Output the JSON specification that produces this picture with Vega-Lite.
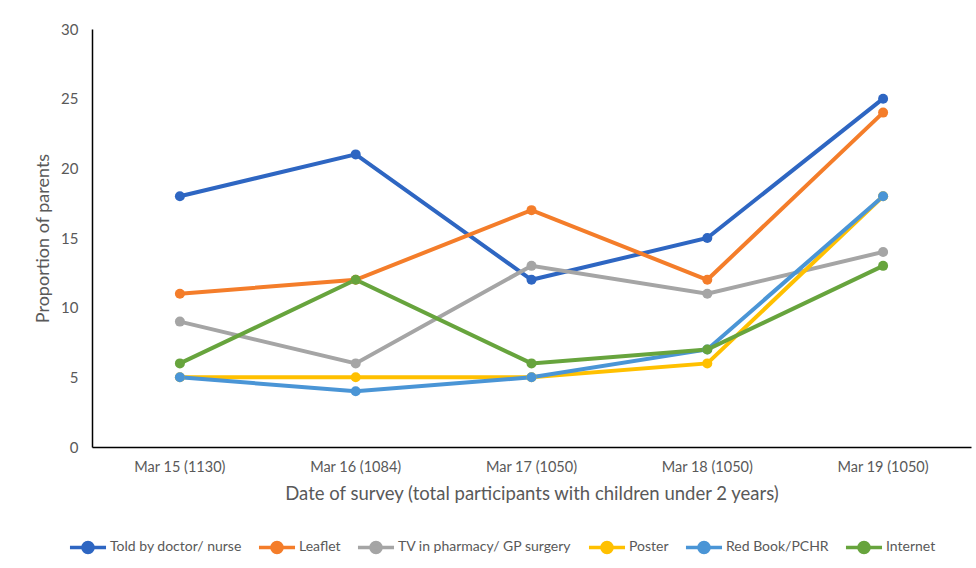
{
  "$schema": "https://vega.github.io/schema/vega-lite/v6.json",
  "width": 879,
  "height": 418,
  "autosize": "none",
  "padding": {"left": 92, "top": 29, "right": 5, "bottom": 121},
  "background": "white",
  "config": {
    "font": "Lato",
    "view": {"stroke": null},
    "axis": {"grid": false, "ticks": false, "labelColor": "#595959", "titleColor": "#595959", "titleFontWeight": "normal", "domainColor": "#000000", "domainWidth": 1.5}
  },
  "data": {
    "values": [
      {"date": "Mar 15 (1130)", "source": "Told by doctor/ nurse", "value": 18},
      {"date": "Mar 16 (1084)", "source": "Told by doctor/ nurse", "value": 21},
      {"date": "Mar 17 (1050)", "source": "Told by doctor/ nurse", "value": 12},
      {"date": "Mar 18 (1050)", "source": "Told by doctor/ nurse", "value": 15},
      {"date": "Mar 19 (1050)", "source": "Told by doctor/ nurse", "value": 25},
      {"date": "Mar 15 (1130)", "source": "Leaflet", "value": 11},
      {"date": "Mar 16 (1084)", "source": "Leaflet", "value": 12},
      {"date": "Mar 17 (1050)", "source": "Leaflet", "value": 17},
      {"date": "Mar 18 (1050)", "source": "Leaflet", "value": 12},
      {"date": "Mar 19 (1050)", "source": "Leaflet", "value": 24},
      {"date": "Mar 15 (1130)", "source": "TV in pharmacy/ GP surgery", "value": 9},
      {"date": "Mar 16 (1084)", "source": "TV in pharmacy/ GP surgery", "value": 6},
      {"date": "Mar 17 (1050)", "source": "TV in pharmacy/ GP surgery", "value": 13},
      {"date": "Mar 18 (1050)", "source": "TV in pharmacy/ GP surgery", "value": 11},
      {"date": "Mar 19 (1050)", "source": "TV in pharmacy/ GP surgery", "value": 14},
      {"date": "Mar 15 (1130)", "source": "Poster", "value": 5},
      {"date": "Mar 16 (1084)", "source": "Poster", "value": 5},
      {"date": "Mar 17 (1050)", "source": "Poster", "value": 5},
      {"date": "Mar 18 (1050)", "source": "Poster", "value": 6},
      {"date": "Mar 19 (1050)", "source": "Poster", "value": 18},
      {"date": "Mar 15 (1130)", "source": "Red Book/PCHR", "value": 5},
      {"date": "Mar 16 (1084)", "source": "Red Book/PCHR", "value": 4},
      {"date": "Mar 17 (1050)", "source": "Red Book/PCHR", "value": 5},
      {"date": "Mar 18 (1050)", "source": "Red Book/PCHR", "value": 7},
      {"date": "Mar 19 (1050)", "source": "Red Book/PCHR", "value": 18},
      {"date": "Mar 15 (1130)", "source": "Internet", "value": 6},
      {"date": "Mar 16 (1084)", "source": "Internet", "value": 12},
      {"date": "Mar 17 (1050)", "source": "Internet", "value": 6},
      {"date": "Mar 18 (1050)", "source": "Internet", "value": 7},
      {"date": "Mar 19 (1050)", "source": "Internet", "value": 13}
    ]
  },
  "encoding": {
    "x": {
      "field": "date", "type": "nominal", "sort": null,
      "scale": {"type": "band", "paddingInner": 0, "paddingOuter": 0},
      "axis": {"labelAngle": 0, "labelFontSize": 14.5, "labelPadding": 13, "title": "Date of survey (total participants with children under 2 years)", "titleFontSize": 18.5, "titlePadding": 11}
    },
    "y": {
      "field": "value", "type": "quantitative",
      "scale": {"domain": [0, 30], "nice": false},
      "axis": {"values": [0, 5, 10, 15, 20, 25, 30], "labelFontSize": 15, "labelPadding": 14, "title": "Proportion of parents", "titleFontSize": 18, "titlePadding": 8}
    },
    "color": {
      "field": "source", "type": "nominal",
      "scale": {
        "domain": ["Told by doctor/ nurse", "Leaflet", "TV in pharmacy/ GP surgery", "Poster", "Red Book/PCHR", "Internet"],
        "range": ["#2E66C2", "#F47D2A", "#A5A5A5", "#FFC000", "#4A95D6", "#67A43D"]
      },
      "legend": {
        "orient": "none", "legendX": -24, "legendY": 498, "direction": "horizontal", "title": null,
        "symbolType": "M-1,0H1M-0.28,0A0.28,0.28 0 1,1 0.28,0A0.28,0.28 0 1,1 -0.28,0Z",
        "symbolSize": 1300, "symbolStrokeWidth": 3.5, "labelFontSize": 14, "labelColor": "#595959",
        "labelLimit": 0, "labelOffset": 2, "columnPadding": 9
      }
    }
  },
  "layer": [
    {"mark": {"type": "line", "strokeWidth": 4}},
    {"mark": {"type": "point", "filled": true, "size": 100, "opacity": 1}}
  ]
}
